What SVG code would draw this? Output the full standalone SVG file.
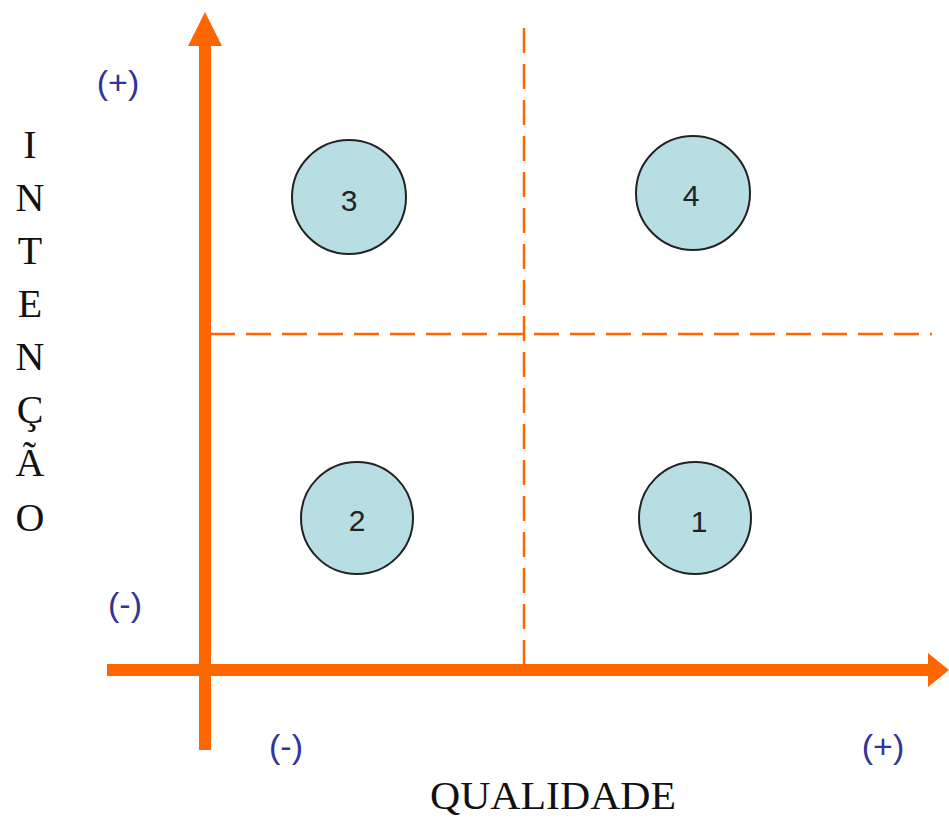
<svg xmlns="http://www.w3.org/2000/svg" width="949" height="820" viewBox="0 0 949 820">
<style>
.axis{stroke:#ff6600;stroke-width:12;fill:none}
.dash{stroke:#ff6600;stroke-width:2.5;fill:none;stroke-dasharray:25 11}
.head{fill:#ff6600}
.node circle{fill:#b6dee3;stroke:#222;stroke-width:2}
.num{font-family:"Liberation Sans",Arial,sans-serif;font-size:30px;fill:#222;text-anchor:middle}
.sign{font-family:"Liberation Sans",Arial,sans-serif;font-size:34px;fill:#333399;text-anchor:middle}
.lbl{font-family:"Liberation Serif","Times New Roman",serif;font-size:40px;fill:#111;text-anchor:middle}
</style>
<rect width="949" height="820" fill="#fff"/>
<g id="connectors">
<line class="axis" x1="205" y1="750" x2="205" y2="42"/>
<polygon class="head" points="205,12 188,46 222,46"/>
<line class="axis" x1="107" y1="670" x2="930" y2="670"/>
<polygon class="head" points="949,670 928,653 928,687"/>
<line class="dash" x1="524" y1="28" x2="524" y2="668"/>
<line class="dash" x1="210" y1="334" x2="932" y2="334"/>
</g>
<g id="node3" class="node"><circle cx="349" cy="197" r="57"/><text class="num" x="349" y="211">3</text></g>
<g id="node4" class="node"><circle cx="693" cy="193" r="57"/><text class="num" x="691" y="206">4</text></g>
<g id="node2" class="node"><circle cx="357" cy="518" r="56"/><text class="num" x="357" y="531">2</text></g>
<g id="node1" class="node"><circle cx="695" cy="518" r="56"/><text class="num" x="699" y="532">1</text></g>
<g id="labels">
<text class="sign" x="118" y="94">(+)</text>
<text class="sign" x="125" y="616">(-)</text>
<text class="sign" x="286" y="758">(-)</text>
<text class="sign" x="883" y="758">(+)</text>
<text class="lbl" x="553" y="809" textLength="246" lengthAdjust="spacingAndGlyphs">QUALIDADE</text>
<text class="lbl" x="30" y="158">I</text>
<text class="lbl" x="30" y="211">N</text>
<text class="lbl" x="30" y="264">T</text>
<text class="lbl" x="30" y="317">E</text>
<text class="lbl" x="30" y="370">N</text>
<text class="lbl" x="30" y="423">Ç</text>
<text class="lbl" x="30" y="476">Ã</text>
<text class="lbl" x="30" y="531">O</text>
</g>
</svg>
